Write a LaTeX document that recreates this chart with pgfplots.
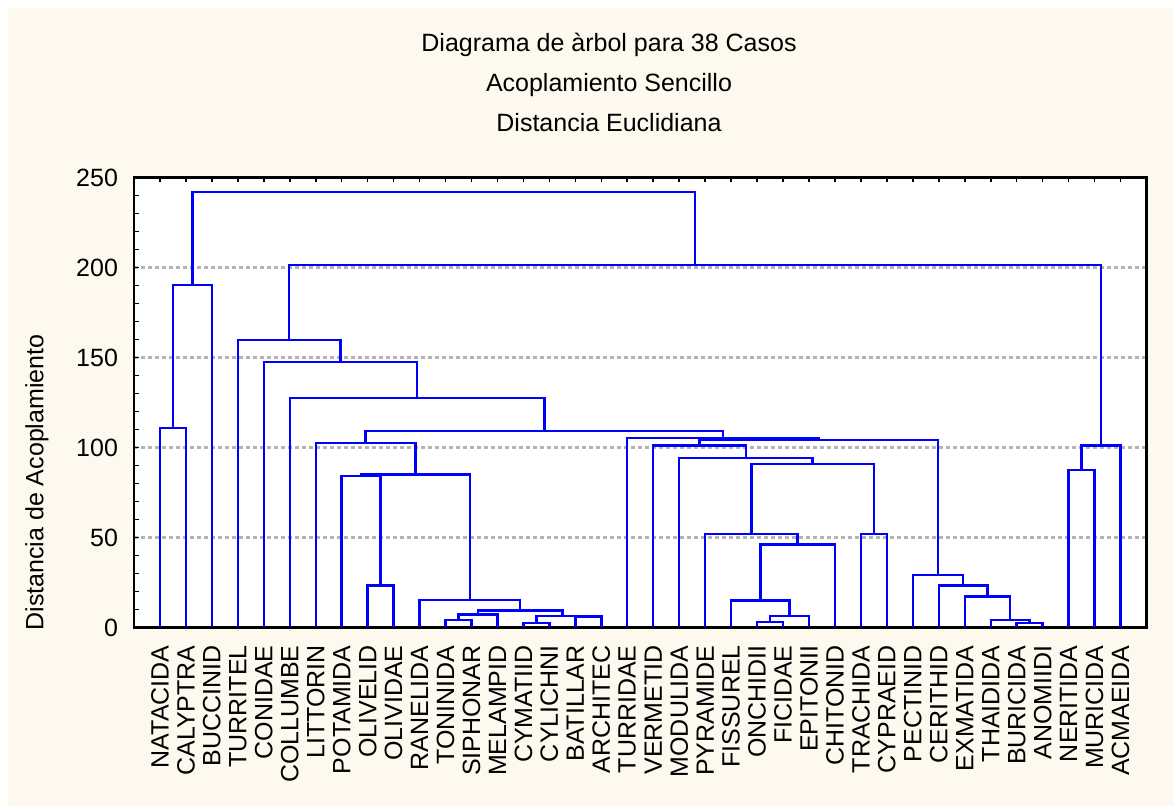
\documentclass[border=0pt]{standalone}
\usepackage{fontspec}
\setmainfont{Liberation Sans}
\usepackage{pgfplots}
\pgfplotsset{compat=1.18}
\definecolor{cream}{RGB}{254,249,238}
\definecolor{gridgray}{RGB}{180,180,180}
\newcommand\f{\fontsize{12.5}{15}\selectfont}
\begin{document}
\begin{tikzpicture}
\fill[white] (0,0) rectangle (586.5pt,403pt);
\fill[cream] (4pt,0) rectangle (586.5pt,399pt);
\begin{axis}[
  at={(67pt,89.25pt)}, anchor=south west,
  scale only axis, width=506.25pt, height=225pt,
  xmin=0, xmax=39, ymin=0, ymax=250,
  axis background/.style={fill=white},
  axis line style={black, line width=1.2pt},
  xtick={1,...,38},
  xticklabels={NATACIDA,CALYPTRA,BUCCINID,TURRITEL,CONIDAE,COLLUMBE,LITTORIN,POTAMIDA,OLIVELID,OLIVIDAE,RANELIDA,TONINIDA,SIPHONAR,MELAMPID,CYMATIID,CYLICHNI,BATILLAR,ARCHITEC,TURRIDAE,VERMETID,MODULIDA,PYRAMIDE,FISSUREL,ONCHIDII,FICIDAE,EPITONII,CHITONID,TRACHIDA,CYPRAEID,PECTINID,CERITHID,EXMATIDA,THAIDIDA,BURICIDA,ANOMIIDI,NERITIDA,MURICIDA,ACMAEIDA},
  xticklabel style={font=\f, yshift=-5.4pt, rotate=90, anchor=east},
  ytick={0,50,...,250},
  minor y tick num=4,
  ytick pos=left,
  yticklabel style={font=\f, xshift=-4.5pt},
  /pgf/number format/assume math mode=true,
  tick align=inside,
  major tick length=2.5pt, minor tick length=2.5pt,
  tick style={black, line width=0.8pt},
  ymajorgrids,
  major grid style={gridgray, dash pattern=on 2pt off 1.5pt, line width=1.1pt},
  cycle list={{blue, solid, line width=1.2pt, mark=none}},
  every axis plot post/.append style={blue, solid, line width=1.2pt, mark=none, line join=miter},
]
% leaves and merges: each plot is one link of the tree
\addplot coordinates {(1,0)(1,110.7)(2,110.7)(2,0)};
\addplot coordinates {(1.5,110.7)(1.5,190.4)(3,190.4)(3,0)};
\addplot coordinates {(2.25,190.4)(2.25,241.8)(21.6128,241.8)(21.6128,201.5)};
\addplot coordinates {(9,0)(9,23.3)(10,23.3)(10,0)};
\addplot coordinates {(8,0)(8,84.3)(9.5,84.3)(9.5,23.3)};
\addplot coordinates {(12,0)(12,4.3)(13,4.3)(13,0)};
\addplot coordinates {(12.5,4.3)(12.5,7.2)(14,7.2)(14,0)};
\addplot coordinates {(15,0)(15,2.4)(16,2.4)(16,0)};
\addplot coordinates {(17,0)(17,6.2)(18,6.2)(18,0)};
\addplot coordinates {(15.5,2.4)(15.5,6.5)(17.5,6.5)(17.5,6.2)};
\addplot coordinates {(13.25,7.2)(13.25,9.4)(16.5,9.4)(16.5,6.5)};
\addplot coordinates {(11,0)(11,15.4)(14.875,15.4)(14.875,9.4)};
\addplot coordinates {(8.75,84.3)(8.75,85.0)(12.9375,85.0)(12.9375,15.4)};
\addplot coordinates {(7,0)(7,102.4)(10.8438,102.4)(10.8438,85.0)};
\addplot coordinates {(24,0)(24,3.0)(25,3.0)(25,0)};
\addplot coordinates {(24.5,3.0)(24.5,6.3)(26,6.3)(26,0)};
\addplot coordinates {(23,0)(23,15.0)(25.25,15.0)(25.25,6.3)};
\addplot coordinates {(24.125,15.0)(24.125,46.1)(27,46.1)(27,0)};
\addplot coordinates {(22,0)(22,52.0)(25.5625,52.0)(25.5625,46.1)};
\addplot coordinates {(28,0)(28,52.0)(29,52.0)(29,0)};
\addplot coordinates {(23.7813,52.0)(23.7813,90.9)(28.5,90.9)(28.5,52.0)};
\addplot coordinates {(21,0)(21,94.2)(26.1406,94.2)(26.1406,90.9)};
\addplot coordinates {(20,0)(20,101.1)(23.5703,101.1)(23.5703,94.2)};
\addplot coordinates {(34,0)(34,2.6)(35,2.6)(35,0)};
\addplot coordinates {(33,0)(33,4.0)(34.5,4.0)(34.5,2.6)};
\addplot coordinates {(32,0)(32,17.2)(33.75,17.2)(33.75,4.0)};
\addplot coordinates {(31,0)(31,23.3)(32.875,23.3)(32.875,17.2)};
\addplot coordinates {(30,0)(30,29.3)(31.9375,29.3)(31.9375,23.3)};
\addplot coordinates {(21.7852,101.1)(21.7852,104.3)(30.9688,104.3)(30.9688,29.3)};
\addplot coordinates {(19,0)(19,105.4)(26.377,105.4)(26.377,104.3)};
\addplot coordinates {(8.9219,102.4)(8.9219,109.1)(22.6885,109.1)(22.6885,105.4)};
\addplot coordinates {(6,0)(6,127.6)(15.8052,127.6)(15.8052,109.1)};
\addplot coordinates {(5,0)(5,147.4)(10.9026,147.4)(10.9026,127.6)};
\addplot coordinates {(4,0)(4,159.8)(7.9513,159.8)(7.9513,147.4)};
\addplot coordinates {(36,0)(36,87.6)(37,87.6)(37,0)};
\addplot coordinates {(36.5,87.6)(36.5,101.1)(38,101.1)(38,0)};
\addplot coordinates {(5.9756,159.8)(5.9756,201.5)(37.25,201.5)(37.25,101.1)};
\end{axis}
\node[anchor=base, font=\f] at (304.5pt,377.15pt) {Diagrama de àrbol para 38 Casos};
\node[anchor=base, font=\f] at (304.5pt,357.15pt) {Acoplamiento Sencillo};
\node[anchor=base, font=\f] at (304.5pt,337.15pt) {Distancia Euclidiana};
\node[rotate=90, font=\f] at (18.5pt,161.75pt) {Distancia de Acoplamiento};
\end{tikzpicture}
\end{document}
